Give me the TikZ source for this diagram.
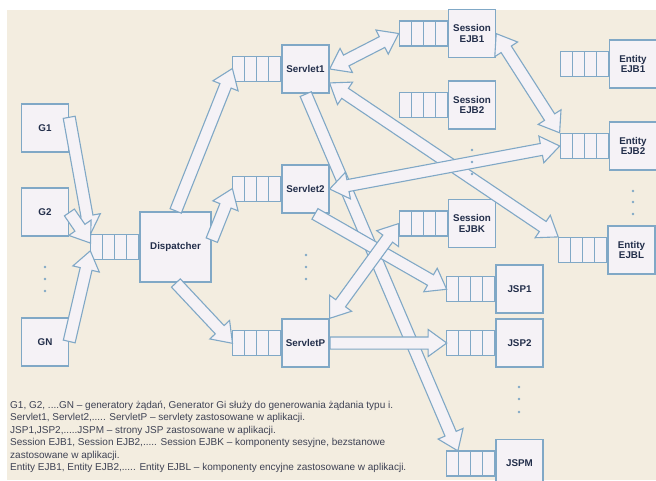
\documentclass[tikz,border=0pt]{standalone}
\usepackage{fontspec}
\setmainfont{Liberation Sans}
\usetikzlibrary{shapes.arrows,calc}

\tikzset{
  box/.style={draw=kLine,fill=kBox,line width=1.2pt,minimum width=47pt,minimum height=48pt,
    inner sep=0pt,align=center,text=kText,font=\fontsize{9.8}{10.5}\selectfont\bfseries},
  queue/.style={draw=kLine,fill=kBox,line width=1.2pt,minimum width=48pt,minimum height=25pt,inner sep=0pt,
    path picture={\foreach \i in {1,2,3}
      \draw[kLine,line width=1.2pt] ([xshift=\i*12pt]path picture bounding box.north west)
        -- ([xshift=\i*12pt]path picture bounding box.south west);}},
  flow/.style={draw=kLine,fill=kBox,line width=1.1pt,inner xsep=0pt,inner ysep=5.5pt,sloped},
  one/.style={flow,single arrow,single arrow head extend=7.5pt,single arrow tip angle=72,anchor=tail,pos=0},
  two/.style={flow,double arrow,double arrow head extend=7.5pt,double arrow tip angle=72,anchor=center,pos=0.5}
}

% block arrow: style, from, to
\newcommand{\flowarrow}[3]{%
  \path let \p1=(#2), \p2=(#3), \n1={veclen(\x2-\x1,\y2-\y1)} in
    (#2) -- (#3) node[#1,minimum height=\n1] {};}

\begin{document}
\begin{tikzpicture}[x=1pt,y=-1pt]
  % colors
  \definecolor{kBg}{RGB}{243,237,224}
  \definecolor{kBox}{RGB}{245,242,246}
  \definecolor{kLine}{RGB}{128,168,198}
  \definecolor{kText}{RGB}{34,46,74}
  \definecolor{kNote}{RGB}{62,66,84}
  % background
  \useasboundingbox (0,0) rectangle (656,480);
  \clip (0,0) rectangle (656,480);
  \fill[white] (0,0) rectangle (656,480);
  \fill[kBg] (7,10) rectangle (656,480);
  % generators
  \node[box] (g1) at (45,128) {G1};
  \node[box] (g2) at (45,212) {G2};
  \node[box] (gn) at (45,342) {GN};
  % dispatcher
  \node[box,minimum width=71pt,minimum height=70pt] (disp) at (175.5,247) {Dispatcher};
  \node[queue,anchor=east] (qdisp) at (disp.west) {};
  % servlets
  \node[box] (s1) at (305.5,69) {Servlet1};
  \node[box] (s2) at (305.5,189) {Servlet2};
  \node[box] (sp) at (305.5,343) {ServletP};
  \node[queue,anchor=east] (qs1) at (s1.west) {};
  \node[queue,anchor=east] (qs2) at (s2.west) {};
  \node[queue,anchor=east] (qsp) at (sp.west) {};
  % session beans
  \node[box] (se1) at (472,33.5) {Session\\EJB1};
  \node[box] (se2) at (472,105) {Session\\EJB2};
  \node[box] (sek) at (472,223.5) {Session\\EJBK};
  \node[queue,anchor=east] (qse1) at (se1.west) {};
  \node[queue,anchor=east] (qse2) at (se2.west) {};
  \node[queue,anchor=east] (qsek) at (sek.west) {};
  % entity beans
  \node[box] (ee1) at (633,64) {Entity\\EJB1};
  \node[box] (ee2) at (633,146) {Entity\\EJB2};
  \node[box] (eel) at (631.5,250) {Entity\\EJBL};
  \node[queue,anchor=east] (qee1) at (ee1.west) {};
  \node[queue,anchor=east] (qee2) at (ee2.west) {};
  \node[queue,anchor=east] (qeel) at (eel.west) {};
  % jsp pages
  \node[box] (j1) at (519.5,289) {JSP1};
  \node[box] (j2) at (519.5,343) {JSP2};
  \node[box] (jm) at (519.5,463.5) {JSPM};
  \node[queue,anchor=east] (qj1) at (j1.west) {};
  \node[queue,anchor=east] (qj2) at (j2.west) {};
  \node[queue,anchor=east] (qjm) at (jm.west) {};
  % requests
  \flowarrow{one}{g1.25}{qdisp.north west}
  \flowarrow{one}{g2.east}{qdisp.170}
  \flowarrow{one}{gn.east}{qdisp.190}
  \flowarrow{one}{disp.north}{qs1.west}
  \flowarrow{one}{disp.10}{qs2.west}
  \flowarrow{one}{disp.south}{qsp.west}
  \flowarrow{one}{s1.south}{qjm.135}
  \flowarrow{one}{s2.-70}{qj1.west}
  \flowarrow{one}{sp.east}{qj2.west}
  \flowarrow{two}{s1.east}{qse1.west}
  \flowarrow{two}{s1.-30}{qeel.north west}
  \flowarrow{two}{s2.east}{qee2.west}
  \flowarrow{two}{qsek.west}{sp.north east}
  \flowarrow{two}{se1.east}{qee2.north west}
  % dots
  \foreach \x/\y in {45/267, 45/279, 45/291, 306/255, 306/267, 306/279, 472/150, 472/162, 472/174,
                     633/191, 633/202, 633/214, 519/387, 519/399, 519/412}
    \fill[kLine] (\x,\y) circle (1.3);
  % legend
  \node[anchor=north west,align=left,inner sep=0pt,text=kNote,font=\fontsize{10}{12.4}\selectfont] (legend) at (10,401)
    {G1, G2, ....GN – generatory żądań, Generator Gi służy do generowania żądania typu i.\\
     Servlet1, Servlet2,..... ServletP – servlety zastosowane w aplikacji.\\
     JSP1,JSP2,.....JSPM – strony JSP zastosowane w aplikacji.\\
     Session EJB1, Session EJB2,..... Session EJBK – komponenty sesyjne, bezstanowe\\
     zastosowane w aplikacji.\\
     Entity EJB1, Entity EJB2,..... Entity EJBL – komponenty encyjne zastosowane w aplikacji.};
\end{tikzpicture}
\end{document}
